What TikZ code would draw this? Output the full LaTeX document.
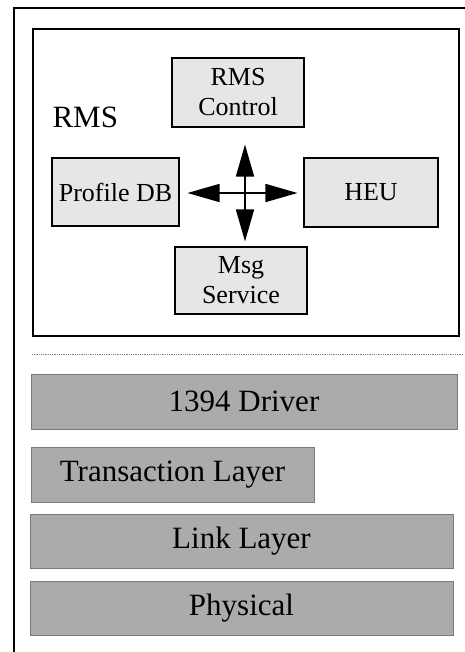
\documentclass[tikz,border=0pt]{standalone}
\usepackage{fontspec}
\setmainfont{Liberation Serif}
\usetikzlibrary{arrows.meta}
\definecolor{boxfill}{HTML}{E6E6E6}
\definecolor{barfill}{HTML}{ABABAB}
\definecolor{barline}{HTML}{7A7A7A}
\tikzset{
  module/.style={draw=black, line width=1.1pt, fill=boxfill, font=\fontsize{26}{30}\selectfont, align=center, inner sep=0pt},
  layerbar/.style={draw=barline, line width=0.9pt, fill=barfill, font=\fontsize{31}{36}\selectfont, inner sep=0pt},
  bigarrow/.style={line width=1.6pt, -{Triangle[length=32pt,width=18pt]}},
}
\begin{document}
\begin{tikzpicture}[x=1pt, y=-1pt]
\useasboundingbox (0,0) rectangle (464,652);
\fill[white] (0,0) rectangle (464,652);
% outer frame
\draw[line width=1.4pt] (470,8) -- (14,8) -- (14,660);
% RMS container
\draw[line width=1.3pt] (33,29) rectangle (459,336);
\node[font=\fontsize{31}{36}\selectfont, anchor=base west] (rmslabel) at (49,128) {RMS};
% components
\node[module, minimum width=132pt, minimum height=69pt] (ctl) at (238,92.5) {RMS\\Control};
\node[module, minimum width=127pt, minimum height=68pt] (pdb) at (115.5,192) {Profile DB};
\node[module, minimum width=134pt, minimum height=69pt] (heu) at (371,192.5) {HEU};
\node[module, minimum width=132pt, minimum height=67pt] (msg) at (241,280.5) {Msg\\Service};
% four-way arrow
\coordinate (hub) at (245,193);
\draw[bigarrow, shorten >=17pt] (hub) -- (hub |- ctl.south);
\draw[bigarrow, shorten >=5pt] (hub) -- (hub |- msg.north);
\draw[bigarrow, shorten >=8pt] (hub) -- (hub -| pdb.east);
\draw[bigarrow, shorten >=6pt] (hub) -- (hub -| heu.west);
% separator
\draw[gray, line width=0.8pt, densely dotted] (32,354) -- (464,354);
% protocol layers
\node[layerbar, minimum width=426pt, minimum height=55pt] (drv) at (244,401.5) {1394 Driver};
\node[layerbar, minimum width=283pt, minimum height=55pt] (trn) at (172.5,474.5) {Transaction Layer};
\node[layerbar, minimum width=423pt, minimum height=54pt] (lnk) at (241.5,541) {Link Layer};
\node[layerbar, minimum width=423pt, minimum height=54pt] (phy) at (241.5,608) {Physical};
\end{tikzpicture}
\end{document}
